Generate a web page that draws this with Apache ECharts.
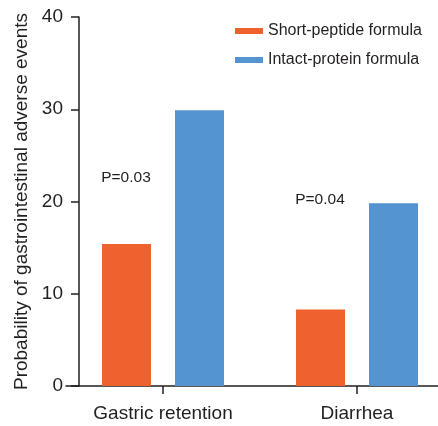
<!DOCTYPE html>
<html>
<head>
<meta charset="utf-8">
<script src="https://cdn.jsdelivr.net/npm/echarts@6/dist/echarts.min.js"></script>
<style>
  html, body { margin: 0; padding: 0; background: #fff; }
  #chart { width: 438px; height: 426px; }
</style>
</head>
<body>
<div id="chart"></div>
<script>
// data
const categories = ["Gastric retention", "Diarrhea"];
const seriesNames = ["Short-peptide formula", "Intact-protein formula"];
const shortPeptide = [15.4, 8.3];
const intactProtein = [29.9, 19.8];
const pLabels = ["P=0.03", "P=0.04"];
const pValuesY = [22.6, 20.2];
const yTicks = [0, 10, 20, 30, 40];

const font = "Liberation Sans, Arial, Helvetica, sans-serif";
const textColor = "#231f20";

const chart = echarts.init(document.getElementById("chart"));

const option = {
  animation: false,
  textStyle: { fontFamily: font },
  legend: {
    data: seriesNames,
    left: 235,
    top: 23,
    padding: 0,
    orient: "vertical",
    icon: "rect",
    itemWidth: 28,
    itemHeight: 6,
    itemGap: 13,
    itemStyle: { borderWidth: 0 },
    textStyle: { fontSize: 16, color: textColor, fontFamily: font }
  },
  // plot area runs past the right edge so the two category bands sit like the original
  grid: { left: 66, width: 388, top: 17, height: 369, outerBoundsMode: "none" },
  xAxis: {
    type: "category",
    data: categories,
    axisLine: { lineStyle: { color: textColor, width: 1.5 } },
    axisTick: { show: true, alignWithLabel: true, length: 8, lineStyle: { color: textColor, width: 1.5 } },
    axisLabel: { fontSize: 19, color: textColor, margin: 18, fontFamily: font }
  },
  yAxis: {
    type: "value",
    min: yTicks[0],
    max: yTicks[yTicks.length - 1],
    interval: 10,
    offset: -13,
    name: "Probability of gastrointestinal adverse events",
    nameLocation: "middle",
    nameGap: 42,
    nameTextStyle: { fontSize: 19, color: textColor, fontFamily: font },
    axisLine: { show: true, lineStyle: { color: textColor, width: 1.5 } },
    axisTick: { show: true, length: 8, lineStyle: { color: textColor, width: 1.5 } },
    axisLabel: { fontSize: 19, color: textColor, margin: 16, fontFamily: font },
    splitLine: { show: false }
  },
  series: [
    {
      name: seriesNames[0],
      type: "bar",
      data: shortPeptide,
      barWidth: 49,
      barGap: "49%",
      itemStyle: { color: "#f0622d" }
    },
    {
      name: seriesNames[1],
      type: "bar",
      data: intactProtein,
      barWidth: 49,
      itemStyle: { color: "#5494d0" }
    }
  ]
};

chart.setOption(option);

// p-value annotations, placed above each group's left bar
const graphics = pLabels.map((txt, i) => {
  const pt = chart.convertToPixel({ gridIndex: 0 }, [i, pValuesY[i]]);
  return {
    type: "text",
    x: pt[0] - 37,
    y: pt[1],
    style: {
      text: txt,
      font: "15.5px " + font,
      fill: textColor,
      align: "center",
      verticalAlign: "middle"
    }
  };
});
chart.setOption({ graphic: graphics });
</script>
</body>
</html>
